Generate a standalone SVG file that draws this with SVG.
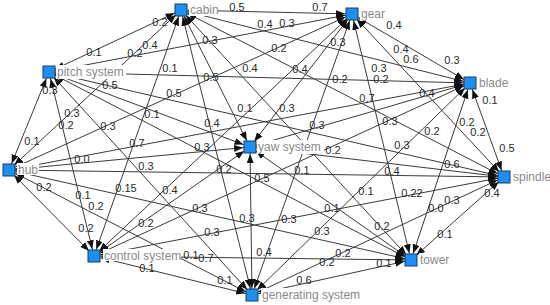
<svg xmlns="http://www.w3.org/2000/svg" width="550" height="305" viewBox="0 0 550 305">
<defs>
<marker id="ah" markerUnits="userSpaceOnUse" markerWidth="18" markerHeight="8" refX="16" refY="3.5" orient="auto-start-reverse">
<path d="M0,0 L9,3.5 L0,7 z" fill="#111"/>
</marker>
<style>
.e line{stroke:#3a3a3a;stroke-width:1;fill:none;marker-start:url(#ah);marker-end:url(#ah)}
.el{font-family:"Liberation Sans",Arial,sans-serif;font-size:11px;fill:#2a2a2a;text-anchor:middle}
.nl{font-family:"Liberation Sans",Arial,sans-serif;font-size:12px;fill:#8a8a8a}
.bg{fill:#fff}
.box{fill:#1e8ff0;stroke:#173c6a;stroke-width:1}
</style>
</defs>
<rect width="550" height="305" fill="#fff"/>
<g id="connectors" class="e">
<line x1="181" y1="10" x2="352" y2="14"/>
<line x1="181" y1="10" x2="49" y2="72"/>
<line x1="181" y1="10" x2="470" y2="83"/>
<line x1="181" y1="10" x2="9" y2="170"/>
<line x1="181" y1="10" x2="250" y2="147"/>
<line x1="181" y1="10" x2="504" y2="177"/>
<line x1="181" y1="10" x2="94" y2="256"/>
<line x1="181" y1="10" x2="411" y2="260"/>
<line x1="181" y1="10" x2="252" y2="295"/>
<line x1="352" y1="14" x2="49" y2="72"/>
<line x1="352" y1="14" x2="470" y2="83"/>
<line x1="352" y1="14" x2="9" y2="170"/>
<line x1="352" y1="14" x2="250" y2="147"/>
<line x1="352" y1="14" x2="504" y2="177"/>
<line x1="352" y1="14" x2="94" y2="256"/>
<line x1="352" y1="14" x2="411" y2="260"/>
<line x1="352" y1="14" x2="252" y2="295"/>
<line x1="49" y1="72" x2="470" y2="83"/>
<line x1="49" y1="72" x2="9" y2="170"/>
<line x1="49" y1="72" x2="250" y2="147"/>
<line x1="49" y1="72" x2="504" y2="177"/>
<line x1="49" y1="72" x2="94" y2="256"/>
<line x1="49" y1="72" x2="411" y2="260"/>
<line x1="49" y1="72" x2="252" y2="295"/>
<line x1="470" y1="83" x2="9" y2="170"/>
<line x1="470" y1="83" x2="250" y2="147"/>
<line x1="470" y1="83" x2="504" y2="177"/>
<line x1="470" y1="83" x2="94" y2="256"/>
<line x1="470" y1="83" x2="411" y2="260"/>
<line x1="470" y1="83" x2="252" y2="295"/>
<line x1="9" y1="170" x2="250" y2="147"/>
<line x1="9" y1="170" x2="504" y2="177"/>
<line x1="9" y1="170" x2="94" y2="256"/>
<line x1="9" y1="170" x2="411" y2="260"/>
<line x1="9" y1="170" x2="252" y2="295"/>
<line x1="250" y1="147" x2="504" y2="177"/>
<line x1="250" y1="147" x2="94" y2="256"/>
<line x1="250" y1="147" x2="411" y2="260"/>
<line x1="250" y1="147" x2="252" y2="295"/>
<line x1="504" y1="177" x2="94" y2="256"/>
<line x1="504" y1="177" x2="411" y2="260"/>
<line x1="504" y1="177" x2="252" y2="295"/>
<line x1="94" y1="256" x2="411" y2="260"/>
<line x1="94" y1="256" x2="252" y2="295"/>
<line x1="411" y1="260" x2="252" y2="295"/>
</g>
<g id="edge-labels" class="el">
<text x="160" y="26">0.2</text>
<text x="94" y="56">0.1</text>
<text x="150" y="49">0.4</text>
<text x="135" y="57">0.2</text>
<text x="170" y="72">0.1</text>
<text x="50" y="94">0.3</text>
<text x="110" y="89">0.5</text>
<text x="174" y="97">0.5</text>
<text x="237" y="11">0.5</text>
<text x="320" y="11">0.7</text>
<text x="265" y="28">0.4</text>
<text x="287" y="27">0.3</text>
<text x="210" y="44">0.3</text>
<text x="279" y="52">0.2</text>
<text x="338" y="46">0.3</text>
<text x="250" y="72">0.4</text>
<text x="300" y="73">0.4</text>
<text x="211" y="81">0.5</text>
<text x="340" y="83">0.2</text>
<text x="394" y="29">0.4</text>
<text x="401" y="53">0.4</text>
<text x="411" y="63">0.6</text>
<text x="452" y="64">0.3</text>
<text x="381" y="83">0.2</text>
<text x="379" y="72">0.3</text>
<text x="427" y="97">0.4</text>
<text x="490" y="104">0.1</text>
<text x="367" y="102">0.7</text>
<text x="72" y="117">0.3</text>
<text x="66" y="129">0.2</text>
<text x="108" y="130">0.3</text>
<text x="32" y="145">0.1</text>
<text x="152" y="118">0.1</text>
<text x="137" y="147">0.7</text>
<text x="82" y="163">0.0</text>
<text x="146" y="170">0.3</text>
<text x="44" y="191">0.2</text>
<text x="83" y="199">0.1</text>
<text x="126" y="192">0.15</text>
<text x="170" y="194">0.4</text>
<text x="245" y="112">0.1</text>
<text x="287" y="112">0.3</text>
<text x="212" y="127">0.4</text>
<text x="317" y="129">0.3</text>
<text x="202" y="151">0.3</text>
<text x="224" y="173">0.2</text>
<text x="262" y="182">0.5</text>
<text x="302" y="174">0.1</text>
<text x="333" y="154">0.2</text>
<text x="390" y="125">0.3</text>
<text x="432" y="135">0.2</text>
<text x="467" y="126">0.2</text>
<text x="478" y="136">0.2</text>
<text x="507" y="152">0.5</text>
<text x="402" y="149">0.3</text>
<text x="452" y="168">0.6</text>
<text x="392" y="175">0.4</text>
<text x="366" y="195">0.1</text>
<text x="412" y="197">0.22</text>
<text x="492" y="197">0.4</text>
<text x="452" y="204">0.3</text>
<text x="436" y="212">0.0</text>
<text x="96" y="210">0.2</text>
<text x="86" y="232">0.2</text>
<text x="146" y="227">0.2</text>
<text x="147" y="272">0.1</text>
<text x="191" y="259">0.1</text>
<text x="200" y="212">0.3</text>
<text x="247" y="222">0.3</text>
<text x="289" y="223">0.3</text>
<text x="332" y="212">0.1</text>
<text x="212" y="236">0.3</text>
<text x="322" y="235">0.3</text>
<text x="264" y="256">0.4</text>
<text x="206" y="262">0.7</text>
<text x="343" y="257">0.2</text>
<text x="327" y="266">0.2</text>
<text x="225" y="284">0.1</text>
<text x="304" y="284">0.6</text>
<text x="382" y="230">0.2</text>
<text x="445" y="238">0.1</text>
<text x="384" y="267">0.1</text>
</g>
<g id="n-cabin">
<rect class="bg" x="189" y="4" width="29" height="12"/>
<text class="nl" x="190" y="14">cabin</text>
<rect class="box" x="175" y="4" width="12" height="12"/>
</g>
<g id="n-gear">
<rect class="bg" x="360" y="8" width="27" height="13"/>
<text class="nl" x="361" y="18">gear</text>
<rect class="box" x="346" y="8" width="12" height="12"/>
</g>
<g id="n-pitch-system">
<rect class="bg" x="56" y="65" width="70" height="14"/>
<text class="nl" x="57" y="76">pitch system</text>
<rect class="box" x="43" y="66" width="12" height="12"/>
</g>
<g id="n-blade">
<rect class="bg" x="478" y="76" width="30" height="12"/>
<text class="nl" x="479" y="87">blade</text>
<rect class="box" x="464" y="77" width="12" height="12"/>
</g>
<g id="n-hub">
<rect class="bg" x="17" y="163" width="22" height="12"/>
<text class="nl" x="18" y="174">hub</text>
<rect class="box" x="3" y="164" width="12" height="12"/>
</g>
<g id="n-yaw-system">
<rect class="bg" x="257" y="140" width="67" height="14"/>
<text class="nl" x="258" y="151">yaw system</text>
<rect class="box" x="244" y="141" width="12" height="12"/>
</g>
<g id="n-spindle">
<rect class="bg" x="512" y="170" width="37" height="14"/>
<text class="nl" x="513" y="181">spindle</text>
<rect class="box" x="498" y="171" width="12" height="12"/>
</g>
<g id="n-control-system">
<rect class="bg" x="103" y="249" width="78" height="12"/>
<text class="nl" x="104" y="260">control system</text>
<rect class="box" x="88" y="250" width="12" height="12"/>
</g>
<g id="n-tower">
<rect class="bg" x="419" y="253" width="32" height="12"/>
<text class="nl" x="420" y="264">tower</text>
<rect class="box" x="405" y="254" width="12" height="12"/>
</g>
<g id="n-generating-system">
<rect class="bg" x="261" y="288" width="99" height="14"/>
<text class="nl" x="262" y="299">generating system</text>
<rect class="box" x="246" y="289" width="12" height="12"/>
</g>
</svg>
